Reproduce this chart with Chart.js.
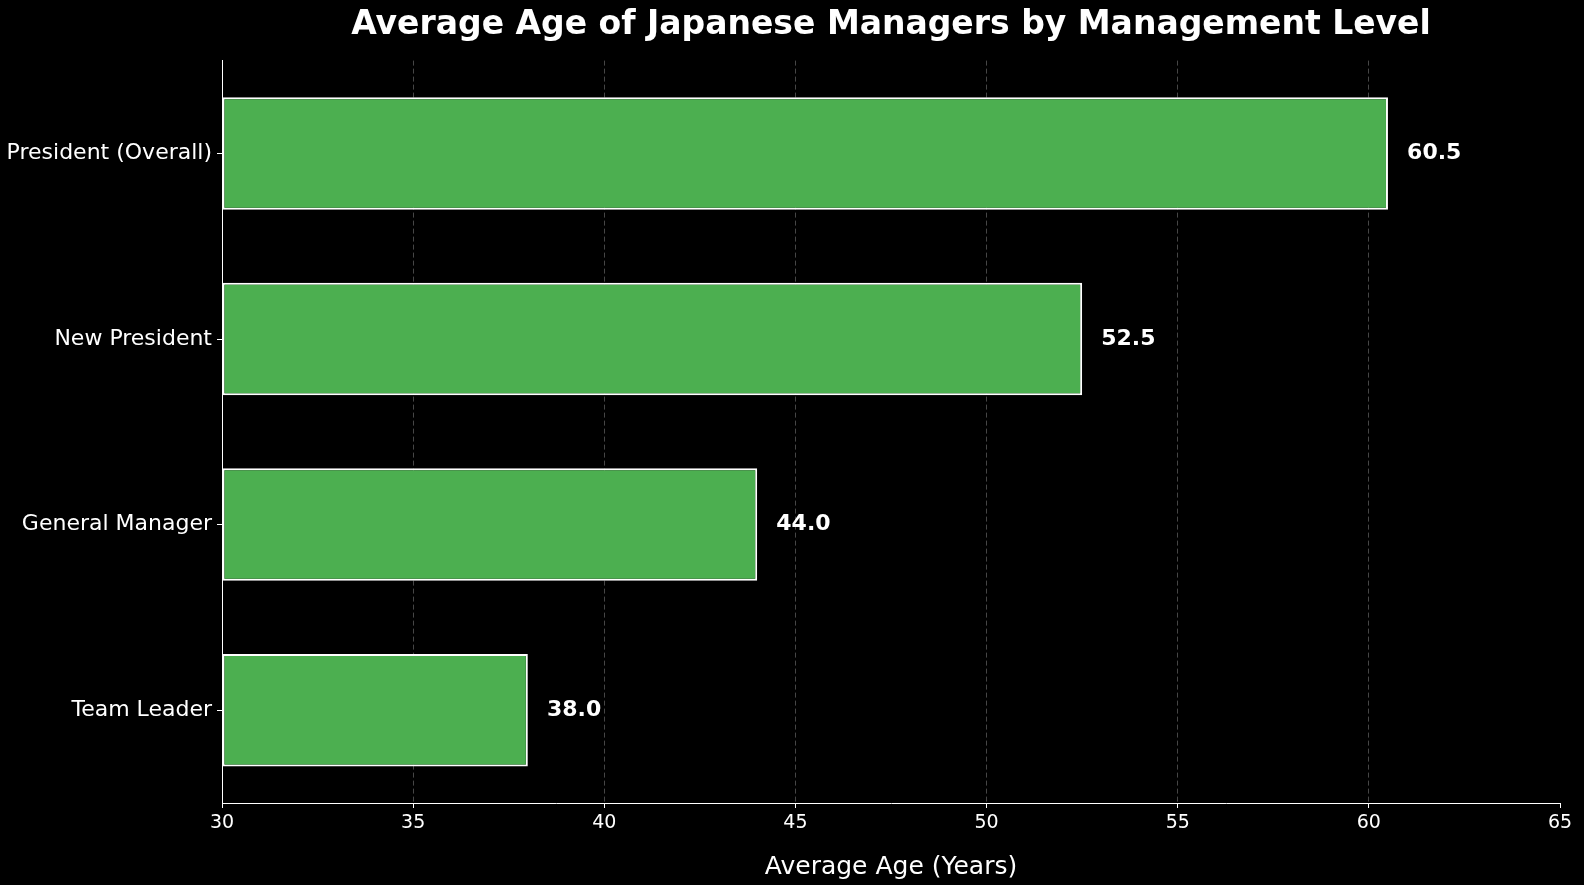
<!DOCTYPE html>
<html>
<head>
<meta charset="utf-8">
<title>Average Age of Japanese Managers by Management Level</title>
<script src="https://cdn.jsdelivr.net/npm/chart.js@4.4.0/dist/chart.umd.min.js"></script>
<style>
  html, body { margin: 0; padding: 0; background: #000; }
  #ageChart { display: block; }
</style>
</head>
<body>
<canvas id="ageChart" width="1584" height="885"></canvas>
<script>
const categories = ['President (Overall)', 'New President', 'General Manager', 'Team Leader'];
const averageAges = [60.5, 52.5, 44.0, 38.0];
const ageTicks = [30, 35, 40, 45, 50, 55, 60, 65];

const fontFamily = '"DejaVu Sans", sans-serif';

// value labels to the right of each bar
const barLabels = {
    id: 'barLabels',
    afterDatasetsDraw(chart) {
        const { ctx, scales: { x } } = chart;
        const meta = chart.getDatasetMeta(0);
        ctx.save();
        ctx.fillStyle = '#ffffff';
        ctx.font = 'bold 22px ' + fontFamily;
        ctx.textAlign = 'left';
        ctx.textBaseline = 'middle';
        meta.data.forEach((bar, i) => {
            const value = averageAges[i];
            ctx.fillText(value.toFixed(1), x.getPixelForValue(value + 0.5), bar.y);
        });
        ctx.restore();
    }
};

const ctx = document.getElementById('ageChart').getContext('2d');
const ageChart = new Chart(ctx, {
    type: 'bar',
    data: {
        labels: categories,
        datasets: [{
            data: averageAges,
            backgroundColor: '#4CAF50',
            borderColor: '#ffffff',
            borderWidth: 2,
            borderSkipped: false,
            base: ageTicks[0],
            barPercentage: 0.606,
            categoryPercentage: 1
        }]
    },
    options: {
        indexAxis: 'y',
        responsive: false,
        devicePixelRatio: 1,
        animation: false,
        layout: {
            padding: { left: 0, right: 24, top: 0, bottom: 0 }
        },
        plugins: {
            legend: { display: false },
            tooltip: { enabled: false },
            title: {
                display: true,
                fullSize: false,
                text: 'Average Age of Japanese Managers by Management Level',
                color: '#ffffff',
                font: { family: fontFamily, size: 33, weight: 'bold' },
                padding: { top: 6, bottom: 15 }
            }
        },
        scales: {
            x: {
                type: 'linear',
                min: ageTicks[0],
                max: ageTicks[ageTicks.length - 1],
                ticks: {
                    stepSize: ageTicks[1] - ageTicks[0],
                    color: '#ffffff',
                    font: { family: fontFamily, size: 19 },
                    padding: 4
                },
                grid: {
                    color: (c) => (c.tick && c.tick.value === ageTicks[ageTicks.length - 1]) ? 'rgba(0,0,0,0)' : 'rgba(128,128,128,0.55)',
                    lineWidth: 1,
                    tickLength: 5,
                    tickColor: '#ffffff',
                    tickWidth: 1,
                    tickBorderDash: []
                },
                border: { color: '#ffffff', width: 1, dash: [5, 3] },
                title: {
                    display: true,
                    text: 'Average Age (Years)',
                    color: '#ffffff',
                    font: { family: fontFamily, size: 25 },
                    padding: { top: 0, bottom: 3 }
                },
                afterFit(scale) { scale.height = 82; }
            },
            y: {
                ticks: {
                    color: '#ffffff',
                    font: { family: fontFamily, size: 22 },
                    padding: 5
                },
                grid: {
                    offset: false,
                    drawOnChartArea: false,
                    tickLength: 5,
                    tickColor: '#ffffff',
                    tickWidth: 1
                },
                border: { color: '#ffffff', width: 1 },
                afterFit(scale) { scale.width = 222; }
            }
        }
    },
    plugins: [barLabels]
});
</script>
</body>
</html>
